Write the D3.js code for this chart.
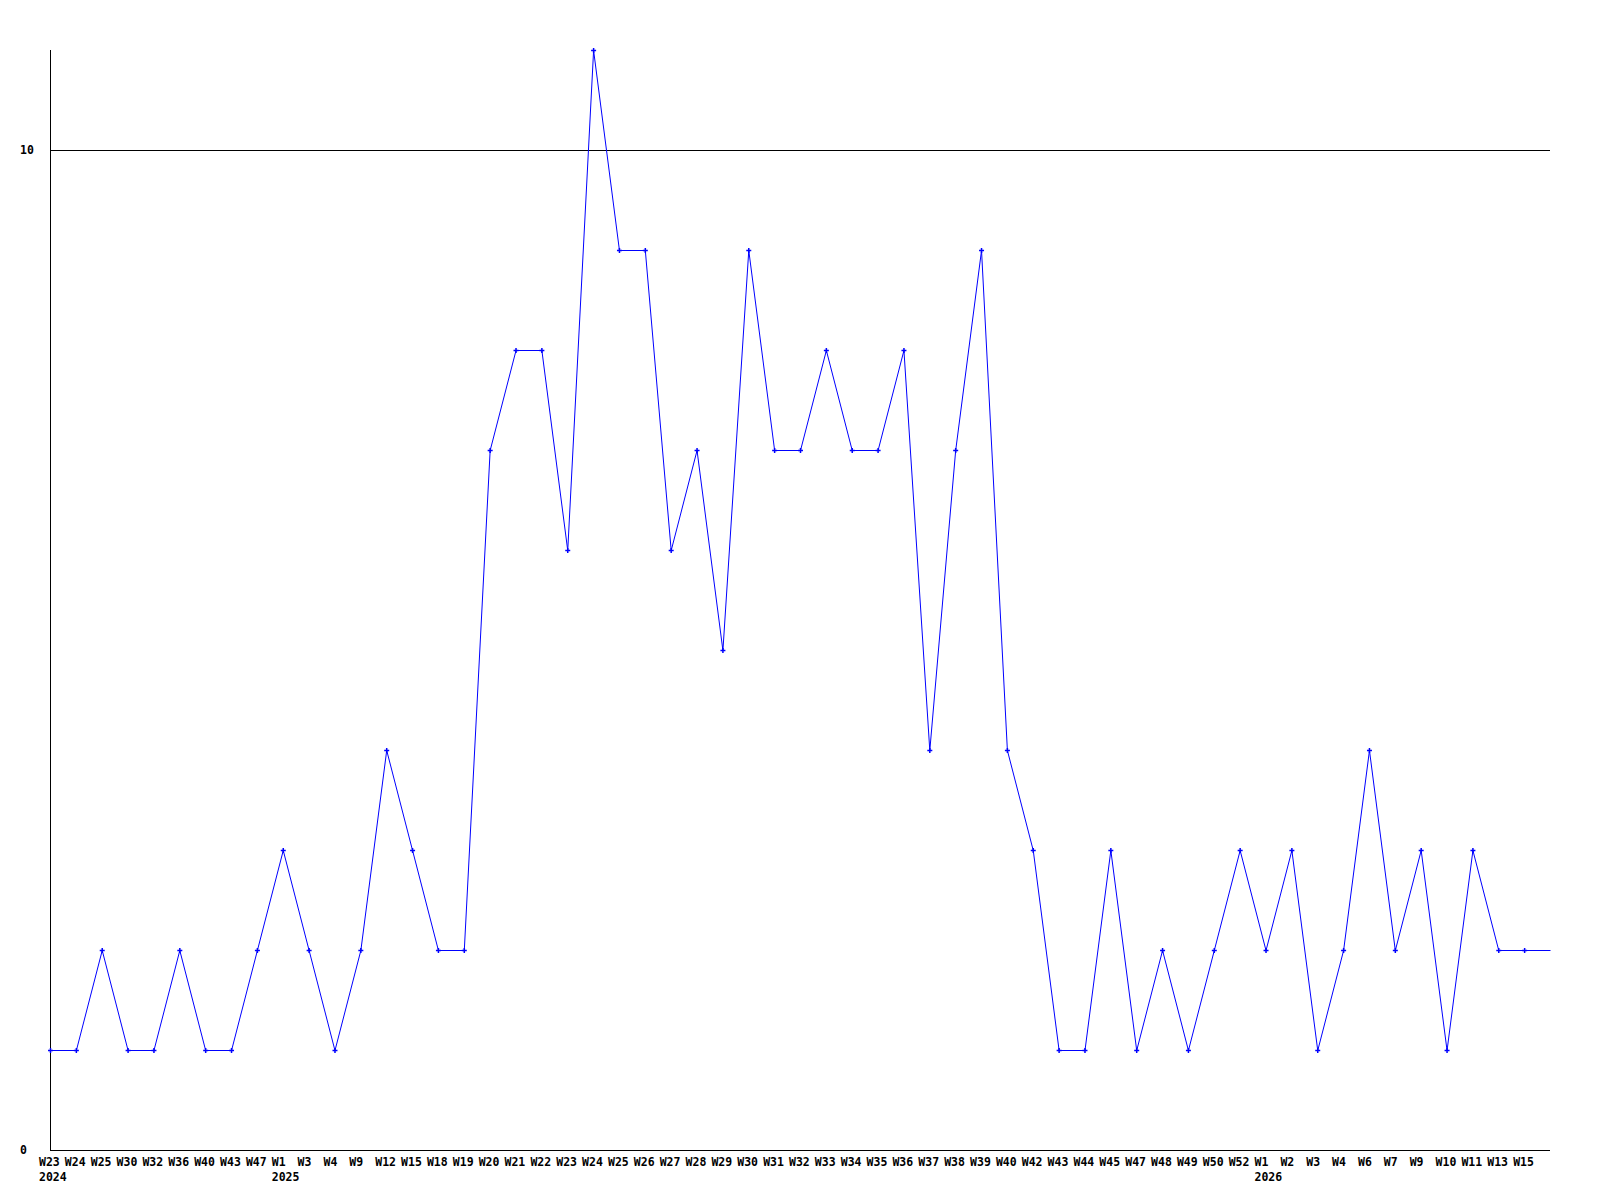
<!DOCTYPE html>
<html>
<head>
<meta charset="utf-8">
<script src="https://cdn.jsdelivr.net/npm/d3@7"></script>
<style>
  body { margin: 0; background: #fff; }
  text { font-family: "DejaVu Sans Mono", "Liberation Mono", monospace; font-weight: bold; font-size: 11.5px; fill: #000; }
</style>
</head>
<body>
<div id="chart"></div>
<script>
// week labels along the x axis, year shown under the first week of each year
const weeks = [
  "W23", "W24", "W25", "W30", "W32", "W36", "W40", "W43", "W47",
  "W1", "W3", "W4", "W9", "W12", "W15", "W18", "W19", "W20", "W21", "W22",
  "W23", "W24", "W25", "W26", "W27", "W28", "W29", "W30", "W31", "W32",
  "W33", "W34", "W35", "W36", "W37", "W38", "W39", "W40", "W42", "W43",
  "W44", "W45", "W47", "W48", "W49", "W50", "W52",
  "W1", "W2", "W3", "W4", "W6", "W7", "W9", "W10", "W11", "W13", "W15"
];
const years = { 0: "2024", 9: "2025", 47: "2026" };

const counts = [
  1, 1, 2, 1, 1, 2, 1, 1, 2,
  3, 2, 1, 2, 4, 3, 2, 2, 7, 8, 8,
  6, 11, 9, 9, 6, 7, 5, 9, 7, 7,
  8, 7, 7, 8, 4, 7, 9, 4, 3, 1,
  1, 3, 1, 2, 1, 2, 3,
  2, 3, 1, 2, 4, 2, 3, 1, 3, 2, 2
];

const yTicks = [0, 10];

const width = 1600, height = 1200;
const svg = d3.select("#chart").append("svg")
    .attr("width", width)
    .attr("height", height);

const x = d3.scaleBand()
    .domain(d3.range(counts.length))
    .range([50, 1550])
    .padding(0);

const y = d3.scaleLinear()
    .domain([0, 11])
    .range([1150, 50]);

// gridline at 10
svg.selectAll(".grid")
    .data(yTicks.filter(d => d > 0))
    .enter().append("line")
    .attr("x1", x.range()[0])
    .attr("x2", x.range()[1])
    .attr("y1", d => y(d) + 0.5)
    .attr("y2", d => y(d) + 0.5)
    .attr("stroke", "#000")
    .attr("shape-rendering", "crispEdges");

// axes lines
svg.append("line")
    .attr("x1", x.range()[0] + 0.5).attr("x2", x.range()[0] + 0.5)
    .attr("y1", y.range()[1]).attr("y2", y.range()[0] + 0.5)
    .attr("stroke", "#000")
    .attr("shape-rendering", "crispEdges");
svg.append("line")
    .attr("x1", x.range()[0]).attr("x2", x.range()[1])
    .attr("y1", y.range()[0] + 0.5).attr("y2", y.range()[0] + 0.5)
    .attr("stroke", "#000")
    .attr("shape-rendering", "crispEdges");

// y tick labels
svg.selectAll(".ylab")
    .data(yTicks)
    .enter().append("text")
    .attr("x", 20)
    .attr("y", d => y(d))
    .attr("dy", "0.35em")
    .text(d => d);

// x labels
svg.selectAll(".xlab")
    .data(weeks)
    .enter().append("text")
    .attr("x", (d, i) => x(i) - 11)
    .attr("y", 1166)
    .text(d => d);

svg.selectAll(".year")
    .data(Object.entries(years))
    .enter().append("text")
    .attr("x", d => x(+d[0]) - 11)
    .attr("y", 1181)
    .text(d => d[1]);

// series line, last value carried to the right edge
const pts = counts.map((v, i) => [x(i), y(v)]);
pts.push([x.range()[1], y(counts[counts.length - 1])]);

svg.append("path")
    .attr("d", d3.line()(pts.map(p => [p[0] + 0.5, p[1] + 0.5])))
    .attr("fill", "none")
    .attr("stroke", "#0000ff")
    .attr("stroke-width", 1);

// small cross markers
const marks = svg.selectAll(".mark")
    .data(counts)
    .enter().append("g")
    .attr("transform", (d, i) => `translate(${x(i) + 0.5},${y(d) + 0.5})`);
marks.append("path")
    .attr("d", "M-2.5,0H2.5M0,-2.5V2.5")
    .attr("stroke", "#0000ff")
    .attr("stroke-width", 1.5);
</script>
</body>
</html>
